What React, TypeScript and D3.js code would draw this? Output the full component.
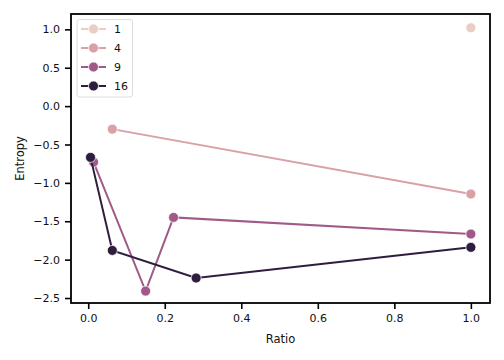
import * as d3 from "d3";
import { useRef, useEffect } from "react";

// hue levels and their points (Ratio, Entropy)
const hues = [1, 4, 9, 16];
const colors = ["#ebcdc4", "#d9a0a6", "#a15a88", "#2d1e3e"];
const ratios = [
  [1.0],
  [0.063, 1.0],
  [0.014, 0.15, 0.223, 1.0],
  [0.006, 0.063, 0.282, 1.0],
];
const entropies = [
  [1.02],
  [-0.3, -1.146],
  [-0.73, -2.41, -1.45, -1.667],
  [-0.668, -1.88, -2.24, -1.84],
];
const xTicks = [0, 0.2, 0.4, 0.6, 0.8, 1.0];
const yTicks = [1.0, 0.5, 0.0, -0.5, -1.0, -1.5, -2.0, -2.5];

export default function App() {
  const width = 504;
  const height = 360;
  const marginLeft = 71;
  const marginRight = 14;
  const marginTop = 14;
  const marginBottom = 57;

  const gx = useRef<SVGGElement | null>(null);
  const gy = useRef<SVGGElement | null>(null);

  const x = d3.scaleLinear([-0.045, 1.05], [marginLeft, width - marginRight]);
  const y = d3.scaleLinear([-2.565, 1.2], [height - marginBottom, marginTop]);

  const line = d3.line<[number, number]>()
    .x((d) => x(d[0]))
    .y((d) => y(d[1]));

  useEffect(() => {
    if (gx.current) {
      const g = d3.select(gx.current);
      g.call(d3.axisBottom(x).tickValues(xTicks).tickFormat(d3.format(".1f")).tickSizeOuter(0).tickSize(6).tickPadding(5));
      g.select(".domain").remove();
      g.selectAll("line").attr("stroke-width", 1.6).attr("stroke", "#000");
      g.selectAll("text").attr("font-size", 11).attr("font-family", "DejaVu Sans").attr("fill", "#111");
    }
    if (gy.current) {
      const g = d3.select(gy.current);
      g.call(d3.axisLeft(y).tickValues(yTicks).tickFormat(d3.format(".1f")).tickSizeOuter(0).tickSize(6).tickPadding(5));
      g.select(".domain").remove();
      g.selectAll("line").attr("stroke-width", 1.6).attr("stroke", "#000");
      g.selectAll("text").attr("font-size", 11).attr("font-family", "DejaVu Sans").attr("fill", "#111");
    }
  }, []);

  return (
    <svg width={width} height={height} style={{ position: "absolute", left: 0, top: 0 }}>
      <rect width={width} height={height} fill="white" />
      <g ref={gx} transform={`translate(0,${height - marginBottom})`} />
      <g ref={gy} transform={`translate(${marginLeft},0)`} />

      {hues.map((h, i) => {
        const pts = ratios[i].map((r, j) => [r, entropies[i][j]] as [number, number]);
        return (
          <g key={h}>
            <path d={line(pts) ?? undefined} fill="none" stroke={colors[i]} strokeWidth={2} />
            {pts.map((p, j) => (
              <circle key={j} cx={x(p[0])} cy={y(p[1])} r={5} fill={colors[i]} stroke="white" strokeWidth={0.75} />
            ))}
          </g>
        );
      })}

      <rect
        x={marginLeft}
        y={marginTop}
        width={width - marginLeft - marginRight}
        height={height - marginTop - marginBottom}
        fill="none"
        stroke="#000"
        strokeWidth={1.8}
      />

      {/* legend */}
      <g fontFamily="DejaVu Sans" fontSize={11}>
        <rect x={77} y={19.5} width={55.5} height={77.5} rx={2.5} fill="white" fillOpacity={0.8} stroke="#ddd" strokeWidth={1} />
        {hues.map((h, i) => (
          <g key={h} transform={`translate(0,${29 + i * 19})`}>
            <line x1={81} x2={106} stroke={colors[i]} strokeWidth={2} />
            <circle cx={93.5} r={5} fill={colors[i]} stroke="white" strokeWidth={0.75} />
            <text x={114} dy="0.35em" fill="#111">{h}</text>
          </g>
        ))}
      </g>

      <text x={(marginLeft + width - marginRight) / 2} y={343} textAnchor="middle" fontFamily="DejaVu Sans" fontSize={11.5} fill="#111">Ratio</text>
      <text transform={`translate(24,${(marginTop + height - marginBottom) / 2}) rotate(-90)`} textAnchor="middle" fontFamily="DejaVu Sans" fontSize={11.5} fill="#111">Entropy</text>
    </svg>
  );
}
